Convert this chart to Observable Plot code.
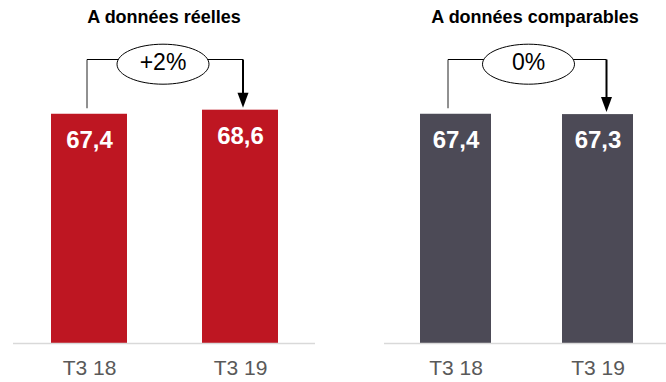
<!DOCTYPE html>
<html>
<head>
<meta charset="utf-8">
<script src="https://cdn.jsdelivr.net/npm/d3@7"></script>
<script src="https://cdn.jsdelivr.net/npm/@observablehq/plot@0.6"></script>
<style>
  html, body { margin: 0; padding: 0; background: #fff; }
  body { font-family: "Liberation Sans", Arial, sans-serif; }
  #wrap { position: relative; width: 666px; height: 382px; overflow: hidden; display: flex; }
  .panel { position: relative; flex: none; height: 382px; }
  .title { position: absolute; top: 8px; transform: translateX(-50%); white-space: nowrap;
           font-weight: bold; font-size: 18px; line-height: 18px; color: #000; }
  .panel svg { position: absolute; top: 30px; left: 0; }
</style>
</head>
<body>
<div id="wrap"></div>
<script>
// ---- data ----
const periods = ["T3 18", "T3 19"];
const reelles = [67.4, 68.6];
const comparables = [67.4, 67.3];
const titles = ["A données réelles", "A données comparables"];
const changes = ["+2%", "0%"];
const barColors = ["#be1622", "#4c4a56"];

// ---- scale extent (top of the frame = level of the connector line) ----
const yMax = 83.5;

const k = 0.5523;
const ellipseSymbol = {
  draw(ctx) {
    const a = 46, b = 20;
    ctx.moveTo(a, 0);
    ctx.bezierCurveTo(a, b * k, a * k, b, 0, b);
    ctx.bezierCurveTo(-a * k, b, -a, b * k, -a, 0);
    ctx.bezierCurveTo(-a, -b * k, -a * k, -b, 0, -b);
    ctx.bezierCurveTo(a * k, -b, a, -b * k, a, 0);
    ctx.closePath();
  }
};
const headSymbol = {
  draw(ctx) {
    ctx.moveTo(-5.5, -15);
    ctx.lineTo(5.5, -15);
    ctx.lineTo(0, 0);
    ctx.closePath();
  }
};

function panel({values, color, title, change, width, marginLeft, marginRight, titleX, dxL, dxR, ellDx}) {
  const data = periods.map((p, i) => ({period: p, value: values[i]}));
  const conn = [{a: data[0], b: data[1]}];
  const div = document.createElement("div");
  div.className = "panel";
  div.style.width = width + "px";
  const t = document.createElement("div");
  t.className = "title";
  t.style.left = titleX + "px";
  t.textContent = title;
  div.appendChild(t);
  const chart = Plot.plot({
    width, height: 352,
    marginTop: 29, marginBottom: 39, marginLeft, marginRight,
    x: {type: "band", domain: periods, paddingInner: 0.5, paddingOuter: 0.25, label: null, tickSize: 0, tickPadding: 17},
    y: {domain: [0, yMax], axis: null},
    style: {fontFamily: "'Liberation Sans', Arial, sans-serif", fontSize: "21px", color: "#595959", background: "transparent", overflow: "visible"},
    marks: [
      Plot.barY(data, {x: "period", y: "value", fill: color}),
      Plot.ruleY([0], {stroke: "#d9d9d9", strokeWidth: 1.5}),
      Plot.text(data, {x: "period", y: "value", text: d => d.value.toFixed(1).replace(".", ","),
        dy: 26, fill: "white", fontWeight: "bold", fontSize: 24}),
      // left vertical connector
      Plot.arrow(conn, {x1: d => d.a.period, x2: d => d.a.period, y1: d => d.a.value, y2: () => yMax,
        insetStart: 6, headLength: 0, stroke: "#222", strokeWidth: 1, strokeLinecap: "butt", dx: dxL}),
      // horizontal connector
      Plot.arrow(conn, {x1: d => d.a.period, x2: d => d.b.period, y1: () => yMax, y2: () => yMax,
        insetStart: dxL, insetEnd: -dxR, headLength: 0, stroke: "#000", strokeWidth: 1, strokeLinecap: "butt"}),
      // right vertical connector with arrow
      Plot.arrow(conn, {x1: d => d.b.period, x2: d => d.b.period, y1: () => yMax, y2: d => d.b.value,
        insetEnd: 16, headLength: 0, stroke: "#000", strokeWidth: 2, strokeLinecap: "butt", dx: dxR}),
      Plot.dot([data[1]], {x: "period", y: "value", symbol: headSymbol, fill: "#000", stroke: null, dy: -2.5, dx: dxR}),
      // ellipse with change
      Plot.dot([change], {y: [yMax], symbol: ellipseSymbol, fill: "white", stroke: "#000", strokeWidth: 1, dy: 4.7, dx: ellDx}),
      Plot.text([change], {y: [yMax], text: d => d, fill: "#000", fontSize: 23, dy: 3.5, dx: ellDx})
    ]
  });
  div.appendChild(chart);
  return div;
}

const wrap = document.getElementById("wrap");
wrap.appendChild(panel({values: reelles, color: barColors[0], title: titles[0], change: changes[0],
  width: 333, marginLeft: 13, marginRight: 18, titleX: 164, dxL: -2.5, dxR: 2.5, ellDx: -1.5}));
wrap.appendChild(panel({values: comparables, color: barColors[1], title: titles[1], change: changes[1],
  width: 335, marginLeft: 51, marginRight: 0, titleX: 202, dxL: -8, dxR: 8.5, ellDx: 2}));
</script>
</body>
</html>
